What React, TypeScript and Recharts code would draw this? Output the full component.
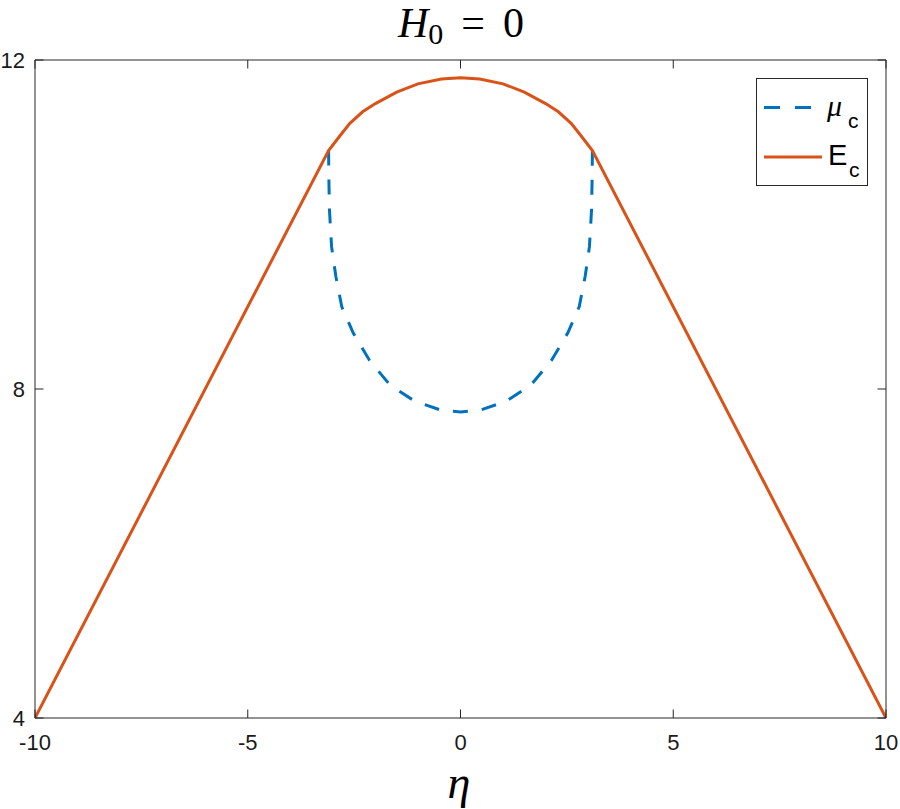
import React from "react";
import { LineChart, Line, XAxis, YAxis, Legend } from "recharts";

// axis ticks
const xTicks = [-10, -5, 0, 5, 10];
const yTicks = [4, 8, 12];

// E_c : straight flanks + dome in the middle
const ecEta = [-10, -3.1, -2.95, -2.8, -2.6, -2.3, -2.0, -1.5, -1.0, -0.45, 0, 0.45, 1.0, 1.5, 2.0, 2.3, 2.6, 2.8, 2.95, 3.1, 10];
const ecValues = [4, 10.9, 11.0, 11.1, 11.23, 11.37, 11.47, 11.61, 11.71, 11.77, 11.785, 11.77, 11.71, 11.61, 11.47, 11.37, 11.23, 11.1, 11.0, 10.9, 4];

// mu_c : only defined inside |eta| < 3.1
const muEta = [-3.1, -3.095, -3.08, -3.03, -2.93, -2.79, -2.52, -2.14, -1.66, -1.07, -0.5, 0, 0.5, 1.07, 1.66, 2.14, 2.52, 2.79, 2.93, 3.03, 3.08, 3.095, 3.1];
const muValues = [10.9, 10.6, 10.18, 9.73, 9.37, 9.0, 8.68, 8.35, 8.05, 7.85, 7.75, 7.72, 7.75, 7.85, 8.05, 8.35, 8.68, 9.0, 9.37, 9.73, 10.18, 10.6, 10.9];

const ecData = ecEta.map((eta, i) => ({ eta, value: ecValues[i] }));
const muData = muEta.map((eta, i) => ({ eta, value: muValues[i] }));

const BLUE = "#0072BD";
const ORANGE = "#D95319";
const AXIS = "#262626";
const TICK_LEN = 8.5;
const FONT = "'Liberation Sans', Arial, sans-serif";
const SERIF = "'Liberation Serif', 'DejaVu Serif', serif";

const BottomTick = ({ x, y, payload }: any) => (
  <g>
    <line x1={x} x2={x} y1={y} y2={y - TICK_LEN} stroke={AXIS} strokeWidth={1} />
    <text x={x} y={y + 32} textAnchor="middle" fontFamily={FONT} fontSize={22} fill="#1a1a1a">
      {payload.value}
    </text>
  </g>
);

const TopTick = ({ x, y }: any) => (
  <line x1={x} x2={x} y1={y} y2={y + TICK_LEN} stroke={AXIS} strokeWidth={1} />
);

const LeftTick = ({ x, y, payload }: any) => (
  <g>
    <line x1={x} x2={x + TICK_LEN} y1={y} y2={y} stroke={AXIS} strokeWidth={1} />
    <text x={x - 10} y={y + 8} textAnchor="end" fontFamily={FONT} fontSize={22} fill="#1a1a1a">
      {payload.value}
    </text>
  </g>
);

const RightTick = ({ x, y }: any) => (
  <line x1={x} x2={x - TICK_LEN} y1={y} y2={y} stroke={AXIS} strokeWidth={1} />
);

const renderLegend = () => (
  <svg width={113} height={109} style={{ display: "block" }}>
    <rect x={0.5} y={0.5} width={111} height={107} fill="#fff" stroke={AXIS} strokeWidth={1} />
    <line x1={8} x2={55} y1={29.5} y2={29.5} stroke={BLUE} strokeWidth={3} strokeDasharray="16 15" />
    <line x1={8} x2={66} y1={79} y2={79} stroke={ORANGE} strokeWidth={3} />
    <text x={71} y={38} fontFamily={SERIF} fontStyle="italic" fontSize={30} fill="#000">
      μ
    </text>
    <text x={92} y={50} fontFamily={FONT} fontSize={21} fill="#000">
      c
    </text>
    <text x={72} y={87} fontFamily={FONT} fontSize={29} fill="#000">
      E
    </text>
    <text x={93} y={99} fontFamily={FONT} fontSize={21} fill="#000">
      c
    </text>
  </svg>
);

export default function App() {
  return (
    <div style={{ position: "relative", width: 900, height: 809, background: "#fff" }}>
      <style>{`body{margin:0}`}</style>
      <svg width={900} height={809} style={{ position: "absolute", left: 0, top: 0, zIndex: 2, pointerEvents: "none" }}>
        <text x={461} y={37} textAnchor="middle" fontFamily={SERIF} fontSize={42} fill="#000">
          <tspan fontStyle="italic">H</tspan>
          <tspan fontSize={30} dy={7}>0</tspan>
          <tspan dy={-7} dx={18}>=</tspan>
          <tspan dx={18}>0</tspan>
        </text>
        <text x={459} y={798} textAnchor="middle" fontFamily={SERIF} fontStyle="italic" fontSize={46} fill="#000">
          η
        </text>
      </svg>
      <LineChart width={900} height={809} margin={{ top: 30, right: 4, bottom: 61, left: 5 }}>
        <XAxis
          xAxisId="b"
          type="number"
          dataKey="eta"
          domain={[-10, 10]}
          ticks={xTicks}
          height={30}
          tickSize={0}
          tickMargin={0}
          tick={<BottomTick />}
          axisLine={{ stroke: AXIS, strokeWidth: 1 }}
          allowDataOverflow
        />
        <XAxis
          xAxisId="t"
          orientation="top"
          type="number"
          dataKey="eta"
          domain={[-10, 10]}
          ticks={xTicks}
          height={30}
          tickSize={0}
          tickMargin={0}
          tick={<TopTick />}
          axisLine={{ stroke: AXIS, strokeWidth: 1 }}
          allowDataOverflow
        />
        <YAxis
          yAxisId="l"
          type="number"
          domain={[4, 12]}
          ticks={yTicks}
          width={30}
          tickSize={0}
          tickMargin={0}
          tick={<LeftTick />}
          axisLine={{ stroke: AXIS, strokeWidth: 1 }}
          allowDataOverflow
        />
        <YAxis
          yAxisId="r"
          orientation="right"
          type="number"
          domain={[4, 12]}
          ticks={yTicks}
          width={10}
          tickSize={0}
          tickMargin={0}
          tick={<RightTick />}
          axisLine={{ stroke: AXIS, strokeWidth: 1 }}
          allowDataOverflow
        />
        <Legend
          layout="vertical"
          align="center"
          verticalAlign="middle"
          content={renderLegend}
          wrapperStyle={{ position: "absolute", left: 756, top: 78, width: 113, height: 109 }}
        />
        <Line
          xAxisId="b"
          yAxisId="l"
          data={muData}
          dataKey="value"
          name="μc"
          type="linear"
          stroke={BLUE}
          strokeWidth={3}
          strokeDasharray="15 14"
          dot={false}
          isAnimationActive={false}
        />
        <Line
          xAxisId="b"
          yAxisId="l"
          data={ecData}
          dataKey="value"
          name="Ec"
          type="linear"
          stroke={ORANGE}
          strokeWidth={3}
          dot={false}
          isAnimationActive={false}
        />
      </LineChart>
    </div>
  );
}
